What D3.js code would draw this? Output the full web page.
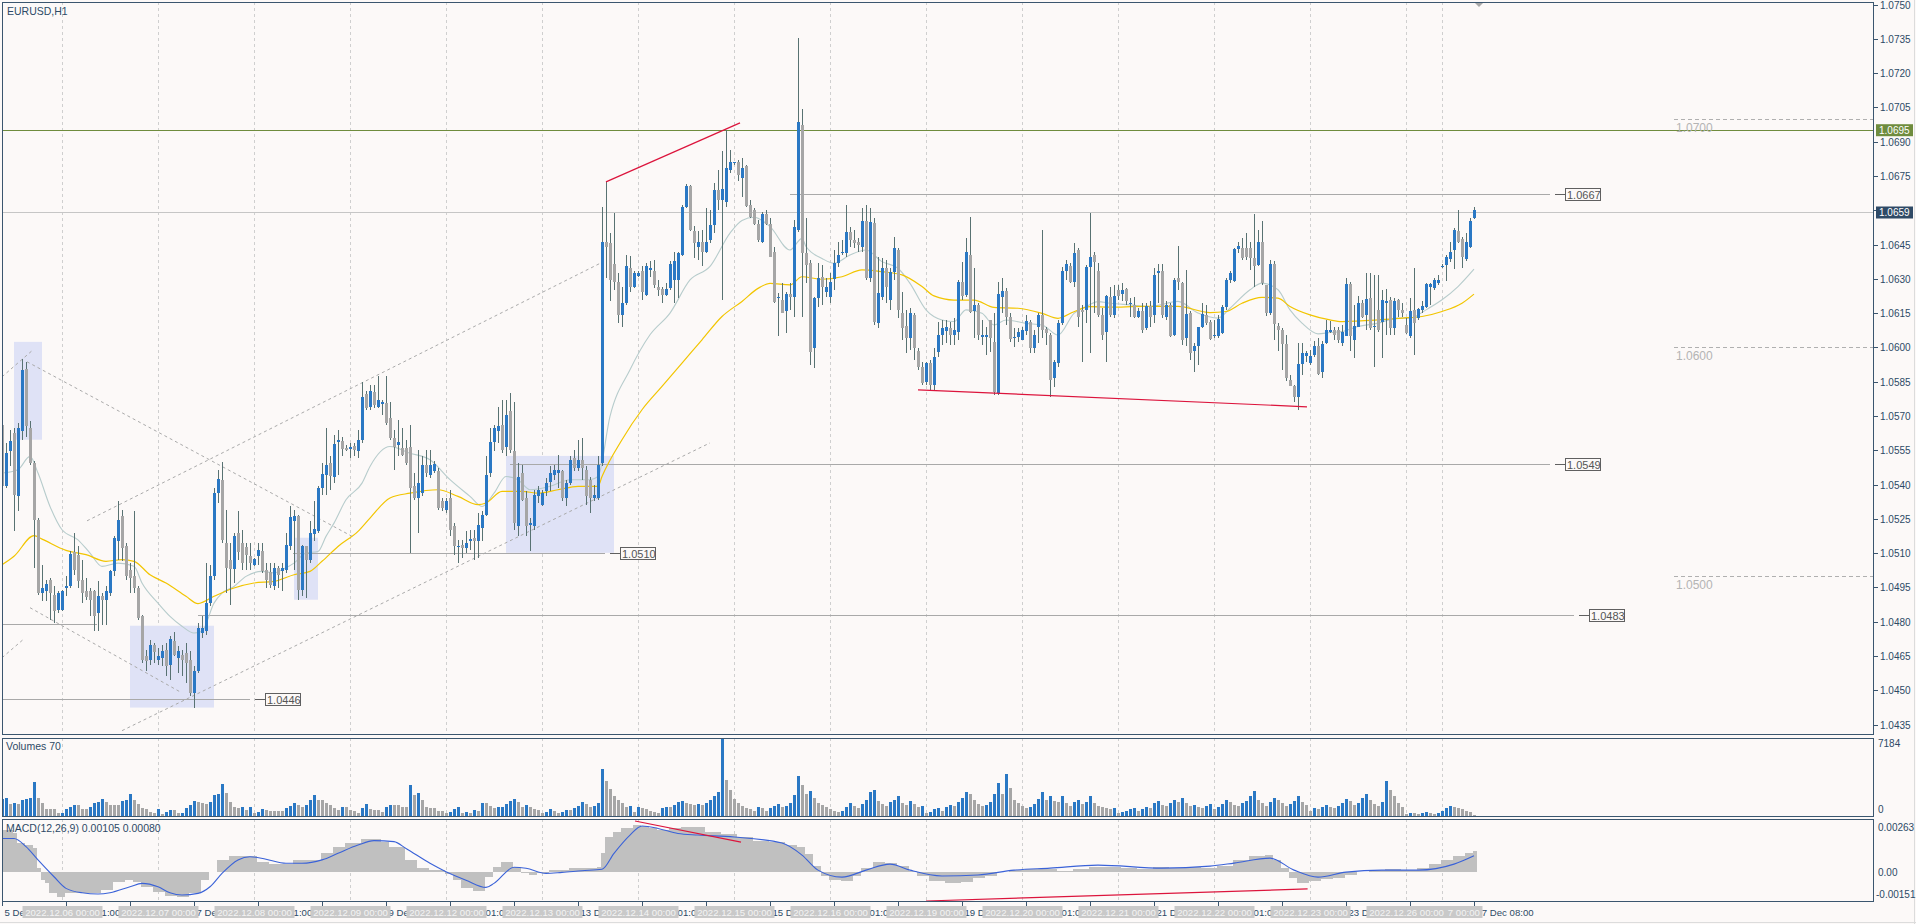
<!DOCTYPE html>
<html><head><meta charset="utf-8">
<script src="https://cdn.jsdelivr.net/npm/d3@7"></script>
<style>body{margin:0;background:#fcf9f8;overflow:hidden}svg{display:block}text{font-family:"Liberation Sans",Arial,sans-serif}</style>
</head><body>
<svg id="c" width="1916" height="924"></svg>
<script>
const opens=[1.0566,1.05392,1.05545,1.05625,1.05348,1.05632,1.05905,1.05647,1.05494,1.05246,1.04925,1.04932,1.04984,1.04918,1.04852,1.04852,1.04946,1.04957,1.05103,1.05093,1.04981,1.04935,1.04935,1.04935,1.04838,1.04911,1.04893,1.04925,1.0502,1.05151,1.05261,1.05129,1.05027,1.04998,1.04947,1.04823,1.04648,1.04634,1.04699,1.04634,1.04641,1.04677,1.04612,1.04714,1.04641,1.04655,1.04663,1.04634,1.04488,1.04583,1.0475,1.04758,1.04881,1.04998,1.05363,1.05421,1.05144,1.05071,1.05032,1.05188,1.05144,1.05126,1.05088,1.05049,1.05086,1.05107,1.05027,1.05016,1.04954,1.05035,1.0502,1.05027,1.05132,1.05239,1.05261,1.0494,1.05129,1.05071,1.05185,1.05195,1.05384,1.05443,1.05494,1.05435,1.05584,1.05589,1.05559,1.05555,1.05567,1.05545,1.05596,1.05796,1.05741,1.05803,1.05741,1.05753,1.05756,1.0569,1.05603,1.05574,1.05559,1.05559,1.05566,1.05392,1.05341,1.05362,1.05486,1.05443,1.05457,1.05457,1.05326,1.05289,1.05341,1.05217,1.05126,1.05136,1.05122,1.05155,1.05166,1.05151,1.05209,1.05268,1.0545,1.05588,1.05632,1.05661,1.05566,1.0572,1.05545,1.05217,1.0545,1.05341,1.05224,1.05217,1.05348,1.05312,1.0537,1.05413,1.05443,1.0545,1.05457,1.05341,1.05406,1.05516,1.05472,1.05508,1.05464,1.05421,1.05341,1.05341,1.05494,1.06459,1.06456,1.06365,1.06288,1.06142,1.06193,1.06346,1.06266,1.06314,1.06332,1.0623,1.06339,1.06336,1.06266,1.06255,1.0623,1.06259,1.06295,1.06295,1.06405,1.06616,1.06707,1.06507,1.06441,1.06463,1.06419,1.0647,1.06536,1.06689,1.06645,1.06634,1.06774,1.06806,1.06813,1.0674,1.06793,1.06623,1.06601,1.0654,1.06462,1.06583,1.0654,1.06419,1.06215,1.06207,1.06161,1.06233,1.06222,1.06513,1.06973,1.06411,1.06371,1.05996,1.06215,1.06309,1.06244,1.06222,1.06298,1.06368,1.06411,1.06411,1.06506,1.0647,1.06462,1.06441,1.06553,1.06302,1.06545,1.06105,1.06222,1.06346,1.06207,1.06331,1.06426,1.06152,1.06094,1.0604,1.06142,1.05986,1.05916,1.0585,1.0593,1.05835,1.05981,1.06054,1.06073,1.06083,1.06054,1.06069,1.06288,1.06229,1.06404,1.06161,1.06185,1.06044,1.06044,1.0612,1.06025,1.05799,1.06222,1.06248,1.06134,1.0604,1.06044,1.06032,1.06073,1.06113,1.05996,1.06091,1.06142,1.06079,1.06054,1.05865,1.05933,1.06108,1.06336,1.06356,1.06288,1.06426,1.06164,1.06164,1.06353,1.06404,1.06336,1.06142,1.06069,1.06222,1.06142,1.06249,1.06234,1.06256,1.0619,1.06186,1.06135,1.06161,1.06084,1.06179,1.06142,1.06324,1.06336,1.06135,1.06186,1.06055,1.06303,1.06281,1.0604,1.0615,1.05982,1.06004,1.06091,1.06142,1.06113,1.06048,1.06048,1.06065,1.06176,1.06295,1.06292,1.06429,1.06434,1.06434,1.06434,1.0639,1.06361,1.06459,1.06273,1.0615,1.06365,1.06094,1.06077,1.06015,1.05858,1.05829,1.05785,1.05928,1.05964,1.05931,1.05967,1.06007,1.05894,1.06018,1.06069,1.06077,1.06074,1.06018,1.0605,1.06278,1.06033,1.06091,1.06196,1.06142,1.06215,1.06091,1.06164,1.06109,1.06193,1.06208,1.06084,1.06208,1.06164,1.06098,1.0605,1.06164,1.06128,1.06164,1.06176,1.06265,1.06259,1.06281,1.06354,1.06361,1.06386,1.06424,1.06507,1.06473,1.06386,1.06441,1.06565];
const highs=[1.05705,1.05581,1.0564,1.05647,1.05669,1.05949,1.05938,1.05676,1.05501,1.05255,1.05049,1.04984,1.04991,1.04954,1.04932,1.0494,1.04998,1.05107,1.05188,1.05129,1.05071,1.04991,1.04947,1.0494,1.04976,1.04925,1.04954,1.05027,1.05173,1.05326,1.0529,1.05144,1.05056,1.05282,1.04954,1.04831,1.04677,1.04721,1.04706,1.04685,1.04699,1.04706,1.04736,1.04753,1.04692,1.04677,1.04706,1.0467,1.04604,1.04794,1.04823,1.05056,1.0505,1.05384,1.05465,1.05497,1.0529,1.05144,1.05188,1.05282,1.05202,1.05144,1.05144,1.05078,1.05144,1.05144,1.05056,1.05056,1.05056,1.05042,1.05056,1.05188,1.05304,1.0529,1.05268,1.05137,1.05132,1.05239,1.05326,1.05392,1.05494,1.05647,1.05523,1.05618,1.0564,1.0561,1.05574,1.05581,1.05581,1.0564,1.05847,1.05807,1.05836,1.05836,1.05873,1.05771,1.05873,1.05763,1.05639,1.05683,1.05647,1.05596,1.05661,1.0545,1.05552,1.05523,1.05552,1.05552,1.05501,1.05472,1.05341,1.05341,1.05377,1.05231,1.05158,1.05158,1.05195,1.05202,1.052,1.05275,1.05282,1.05523,1.05647,1.05661,1.05741,1.05771,1.05771,1.058,1.05763,1.05494,1.05486,1.0537,1.05253,1.05377,1.05392,1.05377,1.05428,1.05479,1.05486,1.0553,1.05464,1.05421,1.05523,1.05552,1.05596,1.05603,1.05479,1.05435,1.05399,1.05523,1.06616,1.06726,1.065,1.06587,1.06325,1.06266,1.06405,1.06398,1.06332,1.06332,1.06354,1.06368,1.06376,1.06383,1.06295,1.06266,1.06281,1.06376,1.06419,1.06419,1.06624,1.06715,1.06711,1.06529,1.06507,1.06514,1.06609,1.06602,1.06718,1.06777,1.06857,1.06952,1.06864,1.06813,1.0682,1.06827,1.06798,1.06645,1.06608,1.06557,1.06594,1.06601,1.06564,1.06441,1.06236,1.0628,1.06244,1.0628,1.06557,1.07352,1.07041,1.06564,1.06382,1.06222,1.06368,1.0636,1.06302,1.06324,1.06426,1.06462,1.0647,1.06623,1.06528,1.06513,1.06477,1.06608,1.06623,1.06608,1.06564,1.06397,1.0639,1.06382,1.06346,1.06484,1.06433,1.06244,1.06164,1.06171,1.06149,1.05996,1.05938,1.05938,1.05945,1.05996,1.06113,1.0612,1.0612,1.06113,1.06127,1.06295,1.06375,1.06477,1.06572,1.06346,1.06193,1.0612,1.06091,1.0612,1.06149,1.06288,1.06302,1.06258,1.06149,1.06083,1.06083,1.06091,1.06142,1.0612,1.06076,1.06149,1.06513,1.06091,1.06061,1.05945,1.0612,1.06353,1.06382,1.06368,1.06455,1.06433,1.06185,1.0636,1.06586,1.06419,1.06368,1.06171,1.06229,1.06266,1.06273,1.06273,1.06281,1.06259,1.06215,1.06222,1.06171,1.06193,1.06193,1.06201,1.06346,1.06365,1.06365,1.06201,1.06193,1.06303,1.06444,1.06288,1.06339,1.06157,1.06018,1.06091,1.06193,1.06186,1.0612,1.0612,1.06142,1.06186,1.06303,1.06336,1.06434,1.06463,1.06478,1.06499,1.06463,1.06584,1.06514,1.06551,1.06273,1.06383,1.06376,1.06106,1.06084,1.06055,1.0588,1.05836,1.06021,1.06021,1.05982,1.05989,1.06026,1.0604,1.06026,1.0612,1.06117,1.06091,1.06091,1.06098,1.06303,1.06285,1.06186,1.06225,1.06208,1.06324,1.06324,1.06317,1.06317,1.06252,1.06255,1.06219,1.06215,1.0621,1.06193,1.06128,1.06215,1.06346,1.06171,1.06201,1.06281,1.06281,1.06303,1.06317,1.06365,1.06405,1.06459,1.06522,1.06599,1.06485,1.06499,1.06565,1.06616];
const lows=[1.05304,1.05384,1.05479,1.05195,1.05282,1.05596,1.0561,1.05487,1.05035,1.04918,1.04889,1.04889,1.04809,1.04794,1.04838,1.04845,1.04911,1.04947,1.05005,1.04947,1.04881,1.04896,1.04823,1.04758,1.04758,1.04787,1.04787,1.04911,1.04998,1.05071,1.05064,1.04984,1.04925,1.04925,1.04809,1.04619,1.04583,1.04612,1.04619,1.04612,1.04604,1.04561,1.04546,1.04648,1.04575,1.04561,1.04532,1.04473,1.04422,1.04575,1.04728,1.04743,1.04867,1.04984,1.05319,1.05144,1.04925,1.04874,1.04969,1.05071,1.05027,1.05027,1.05027,1.05042,1.05049,1.05013,1.04947,1.04947,1.0494,1.04947,1.04932,1.05013,1.05115,1.05027,1.04896,1.04911,1.04903,1.05056,1.05151,1.05188,1.05355,1.05355,1.05377,1.05406,1.05443,1.05523,1.05545,1.05516,1.05523,1.05516,1.05581,1.05727,1.05727,1.05734,1.05734,1.05705,1.05661,1.05596,1.05464,1.05523,1.05523,1.05486,1.051,1.05333,1.05187,1.05348,1.05435,1.05428,1.0545,1.05289,1.05282,1.05275,1.05173,1.05093,1.05056,1.05078,1.051,1.05115,1.05071,1.05078,1.05151,1.05261,1.05435,1.05545,1.05581,1.05537,1.05523,1.05537,1.05202,1.05173,1.05326,1.05173,1.05107,1.05202,1.05319,1.05304,1.05348,1.0537,1.05421,1.05384,1.05326,1.05304,1.05399,1.05457,1.05457,1.05421,1.05312,1.05275,1.05326,1.05333,1.05479,1.06303,1.06201,1.06252,1.06106,1.06091,1.06186,1.06244,1.06259,1.0631,1.06208,1.06223,1.0631,1.06259,1.06223,1.06193,1.06223,1.06252,1.06193,1.06215,1.06398,1.06609,1.06507,1.0639,1.06383,1.06354,1.06412,1.06456,1.065,1.066,1.06208,1.06616,1.06762,1.06798,1.06726,1.06659,1.06616,1.06564,1.06535,1.06462,1.06455,1.06535,1.06394,1.06193,1.0605,1.06149,1.06061,1.06164,1.06134,1.06506,1.06134,1.0628,1.05923,1.05908,1.06178,1.06185,1.06222,1.06193,1.06251,1.06353,1.06404,1.06397,1.06441,1.06433,1.06419,1.06419,1.06295,1.06288,1.06098,1.06083,1.06207,1.06193,1.06164,1.06295,1.06127,1.06032,1.05974,1.05989,1.05945,1.05901,1.05835,1.05835,1.05814,1.05814,1.05959,1.0601,1.06018,1.0601,1.0601,1.06032,1.06207,1.06222,1.06149,1.06039,1.06032,1.0601,1.05967,1.05981,1.05792,1.05792,1.06149,1.06098,1.06025,1.06003,1.06025,1.06032,1.06054,1.05974,1.05974,1.06018,1.06039,1.0601,1.05784,1.05828,1.05916,1.06098,1.06295,1.0628,1.06266,1.06091,1.05938,1.06105,1.05974,1.06149,1.06134,1.06032,1.05938,1.06135,1.06128,1.06208,1.06201,1.06186,1.06135,1.06128,1.06128,1.06065,1.06077,1.06091,1.06106,1.06193,1.06128,1.0612,1.06045,1.06048,1.06252,1.06011,1.06004,1.05945,1.05894,1.05924,1.06084,1.06098,1.06033,1.0604,1.0604,1.06059,1.06164,1.06281,1.06288,1.06412,1.06383,1.06383,1.06339,1.06266,1.06354,1.06273,1.06138,1.06142,1.06033,1.05982,1.05902,1.05855,1.05829,1.05763,1.05727,1.0588,1.05938,1.05924,1.0596,1.0588,1.05865,1.06015,1.06062,1.06033,1.06018,1.06007,1.06048,1.05982,1.05953,1.06088,1.06128,1.06077,1.06077,1.05916,1.06069,1.05953,1.06055,1.06055,1.06055,1.06135,1.06135,1.06059,1.0604,1.05967,1.0612,1.06152,1.06171,1.06186,1.06252,1.06273,1.06346,1.06292,1.06375,1.06342,1.06456,1.06346,1.0638,1.06434,1.06561];
const closes=[1.05392,1.05538,1.05589,1.05355,1.05647,1.05902,1.05654,1.05494,1.05246,1.04925,1.04947,1.04966,1.04925,1.04845,1.04925,1.04932,1.04957,1.05097,1.05027,1.04976,1.04925,1.04906,1.04893,1.04823,1.04911,1.04893,1.04932,1.0502,1.05166,1.05246,1.05122,1.04998,1.04991,1.04947,1.04816,1.04634,1.04626,1.04699,1.04666,1.04651,1.0467,1.04604,1.04724,1.04655,1.0467,1.04634,1.04619,1.04488,1.04583,1.04772,1.04772,1.04881,1.04998,1.05363,1.05424,1.05158,1.05035,1.05032,1.05176,1.05103,1.05056,1.05093,1.05056,1.05074,1.05115,1.0502,1.04984,1.04962,1.05035,1.05005,1.05035,1.05137,1.05258,1.05264,1.0494,1.05129,1.05071,1.05188,1.05205,1.05384,1.05447,1.05487,1.05438,1.05578,1.05596,1.05555,1.05552,1.05562,1.05549,1.05596,1.05785,1.05734,1.05807,1.05749,1.05768,1.05759,1.05669,1.05603,1.05566,1.05588,1.0553,1.05494,1.05384,1.05341,1.05406,1.05486,1.0545,1.05486,1.05491,1.05297,1.05297,1.05326,1.05202,1.05129,1.05132,1.05122,1.05144,1.05161,1.05151,1.05224,1.05268,1.05443,1.05588,1.05647,1.05654,1.05552,1.05705,1.05552,1.05231,1.05435,1.05333,1.05217,1.05231,1.05355,1.05377,1.05362,1.05406,1.0545,1.05464,1.05464,1.05341,1.05406,1.05508,1.05472,1.05508,1.05472,1.05348,1.05341,1.05355,1.05486,1.06463,1.06441,1.06295,1.06288,1.06142,1.06193,1.06357,1.06266,1.06325,1.06325,1.06244,1.06357,1.06346,1.06274,1.06252,1.0623,1.06256,1.06365,1.06376,1.06412,1.06616,1.06707,1.06514,1.06456,1.06463,1.06419,1.06463,1.06536,1.06689,1.06645,1.06692,1.06784,1.06809,1.06809,1.06755,1.06783,1.06618,1.06572,1.0654,1.0647,1.06583,1.0654,1.06397,1.062,1.06222,1.06152,1.06233,1.06222,1.06528,1.06987,1.06411,1.0636,1.05981,1.06215,1.06302,1.06266,1.06266,1.06288,1.06368,1.06404,1.06419,1.06506,1.0647,1.06455,1.06448,1.06553,1.06302,1.0655,1.06113,1.06236,1.06346,1.06266,1.06331,1.06433,1.06164,1.06083,1.0604,1.06149,1.05996,1.05916,1.05843,1.0593,1.05835,1.05957,1.06054,1.06083,1.06088,1.06054,1.06076,1.06288,1.06225,1.06419,1.06156,1.06185,1.06054,1.06054,1.06054,1.0604,1.05806,1.06233,1.06248,1.06134,1.06035,1.06044,1.06069,1.06076,1.06117,1.05996,1.06054,1.06142,1.06076,1.06061,1.05857,1.05938,1.06105,1.06336,1.06365,1.06288,1.06414,1.06134,1.06156,1.0635,1.06394,1.06375,1.06142,1.06054,1.06225,1.06142,1.06225,1.06225,1.06249,1.06201,1.06196,1.06135,1.06161,1.06077,1.06179,1.06135,1.06317,1.06336,1.06142,1.06186,1.0605,1.06295,1.06284,1.06033,1.06147,1.05975,1.06004,1.06088,1.06147,1.06106,1.06036,1.06055,1.06123,1.06176,1.06295,1.06327,1.06429,1.06444,1.0639,1.06397,1.0639,1.06354,1.06459,1.06281,1.0615,1.06365,1.06103,1.06077,1.06015,1.05865,1.05832,1.05785,1.05928,1.05975,1.05975,1.05964,1.06007,1.05884,1.06015,1.06077,1.06077,1.06055,1.06033,1.06069,1.06278,1.06048,1.06094,1.06196,1.06135,1.0621,1.06084,1.06094,1.06077,1.06208,1.06201,1.06084,1.06201,1.06164,1.06152,1.06065,1.06157,1.06106,1.06167,1.06179,1.06278,1.06278,1.06295,1.06295,1.06357,1.06394,1.06417,1.06514,1.06463,1.06394,1.06459,1.06555,1.06599];
const volumes=[1600,1690,1150,1210,1150,1450,1600,1690,3110,1690,1210,605,605,605,245,300,605,785,1000,1000,605,605,785,1210,1300,1540,1300,1000,1000,1000,1390,1450,1990,1450,1150,695,605,390,245,605,150,390,545,545,245,300,695,1000,1360,1300,1210,1150,1300,1900,1990,2960,2110,1300,845,695,785,545,785,245,390,605,545,485,485,485,485,695,910,1210,1000,845,1000,1450,1900,1450,1450,1210,1000,695,545,785,785,545,485,300,695,1090,605,545,545,390,785,1000,1000,1000,785,785,2810,1900,2110,1450,785,695,695,485,485,300,390,605,785,300,390,245,545,485,1210,1210,910,695,785,845,1150,1390,1600,1300,845,1000,785,605,545,245,390,605,485,245,390,545,545,695,910,1300,1090,785,910,1210,4320,3200,2510,1810,1450,1210,785,910,390,785,695,605,485,390,300,695,785,785,1000,1300,1390,1210,1150,1000,1150,1000,1200,1500,1800,2200,7184,3300,2400,1600,1200,900,700,600,500,800,700,500,700,900,1100,800,900,1200,1900,3700,2900,2000,2300,1700,1200,1000,800,600,500,400,500,800,1200,900,700,1100,1500,2200,2400,1400,1100,900,1300,1500,1800,1200,1000,1400,1100,800,900,300,400,600,700,500,800,1000,900,1300,1700,2200,2000,1500,1100,900,1000,1300,2000,3000,2000,3900,2600,1500,1200,900,700,800,1100,1600,2200,1500,1800,1400,1300,1800,1200,900,1300,1500,1100,1300,1800,1200,900,800,700,600,700,300,400,500,600,700,500,600,800,700,1200,1400,1000,900,1200,1500,1300,1700,1200,900,1000,800,700,900,1100,600,800,1100,1500,1300,1000,900,1200,1400,1800,2300,1500,1200,900,1300,1700,1500,1200,900,1100,1400,1800,1300,1000,500,700,600,800,1000,800,700,900,1200,1600,1400,1000,1200,1700,2000,1500,1100,900,1300,3260,2400,1800,1200,800,200,300,300,200,300,400,300,200,300,500,700,900,800,700,600,500,400,70];
const maFastIdx=[0,4,7,9,12,15,19,22,25,29,33,35,39,42,45,48,50,53,55,58,61,65,68,70,73,76,79,81,83,86,90,92,97,102,107,112,117,120,123,126,129,132,137,142,147,149,152,157,162,167,172,177,182,185,188,192,197,200,201,205,208,212,216,220,224,227,231,235,238,241,245,248,251,256,260,264,268,271,274,277,282,287,294,299,304,307,312,315,319,322,325,329,332,335,339,344,349,352,356,360,364,368];
const maFastVal=[1.0545,1.05465,1.05523,1.0545,1.05304,1.05202,1.05158,1.051,1.05042,1.05056,1.05042,1.04969,1.04881,1.04823,1.0478,1.0475,1.04758,1.04881,1.04925,1.04954,1.04998,1.0502,1.05013,1.05027,1.05056,1.051,1.05107,1.05173,1.05231,1.05333,1.05406,1.05479,1.05566,1.05537,1.05508,1.05421,1.05348,1.05304,1.05362,1.05435,1.05421,1.05377,1.05392,1.05421,1.05421,1.05435,1.05698,1.05902,1.06055,1.0615,1.06295,1.06354,1.065,1.06555,1.06569,1.06528,1.06426,1.06477,1.06441,1.06389,1.06368,1.06404,1.06426,1.06375,1.06346,1.0628,1.06164,1.0612,1.06113,1.06164,1.06149,1.06098,1.0612,1.06105,1.06098,1.06054,1.06149,1.06178,1.062,1.06193,1.06186,1.06179,1.06201,1.0615,1.06128,1.06171,1.06252,1.06281,1.06252,1.06164,1.06106,1.06059,1.06065,1.06069,1.06091,1.06106,1.06128,1.06128,1.06164,1.06208,1.06266,1.06342];
const maSlowIdx=[0,3,8,10,16,21,26,30,33,37,41,46,49,53,58,63,68,73,77,80,84,89,92,97,102,109,114,119,121,125,130,134,139,144,149,150,155,160,165,170,175,180,185,189,192,197,200,205,210,215,220,225,230,233,238,243,248,254,260,264,268,272,277,285,294,302,306,310,315,319,322,327,332,335,344,350,355,360,365,368];
const maSlowVal=[1.05049,1.05086,1.05176,1.05161,1.05112,1.05093,1.05064,1.05071,1.05064,1.05005,1.04969,1.04911,1.04879,1.04911,1.04947,1.04969,1.04976,1.05005,1.0502,1.05064,1.05129,1.05195,1.05253,1.05341,1.05362,1.05377,1.05348,1.05312,1.05319,1.0537,1.0537,1.05362,1.05377,1.05392,1.05392,1.05435,1.05596,1.05727,1.05829,1.05931,1.06033,1.06135,1.06201,1.06258,1.0628,1.06273,1.06309,1.06298,1.06309,1.06339,1.06331,1.06317,1.06266,1.06225,1.06207,1.06207,1.06175,1.06171,1.06149,1.06127,1.06156,1.06178,1.06176,1.06179,1.06179,1.06152,1.06157,1.06193,1.06219,1.06215,1.06179,1.06142,1.0612,1.06113,1.0612,1.06128,1.06135,1.06157,1.06193,1.06233];
const macdIdx=[0,3,4,6,8,9,10,11,12,14,16,22,25,28,31,33,35,38,41,44,47,50,52,54,57,61,64,67,71,73,77,80,83,86,90,93,95,97,101,104,107,111,113,115,118,121,123,125,128,130,132,134,137,142,145,149,150,151,153,155,158,160,162,164,167,170,173,176,180,184,188,192,196,199,201,203,205,207,210,213,215,218,221,224,227,229,232,236,240,243,246,249,252,256,260,264,268,272,276,280,284,288,292,296,300,304,308,312,316,318,320,322,324,327,330,333,336,339,342,346,350,354,357,360,363,366,368];
const macdMain=[0.00208,0.00191,0.00141,0.00133,0.00116,0.0002,-0.0004,-0.00058,-0.00108,-0.00125,-0.00108,-0.00108,-0.00091,-0.0005,-0.00042,-0.0005,-0.00075,-0.001,-0.00121,-0.00125,-0.00108,-0.00042,0,0.00059,0.00078,0.00078,0.0005,0.00038,0.00038,0.00059,0.00059,0.00092,0.00125,0.00141,0.00161,0.00163,0.0015,0.00125,0.00059,0.00017,0.00008,-0.00012,-0.00042,-0.00083,-0.00095,-0.00025,0.00025,0.0005,0.00025,-0.00008,-0.00017,-0.00008,0.00008,0.00017,0.0002,0.00025,0.00092,0.00175,0.002,0.00216,0.00233,0.00228,0.00216,0.00208,0.00216,0.00221,0.00225,0.002,0.0019,0.00175,0.00155,0.0015,0.00135,0.00124,0.0009,0.0003,-0.0002,-0.0004,-0.00045,-0.0002,0.0002,0.0005,0.00045,0.0003,0.00005,-0.0002,-0.00045,-0.00055,-0.0005,-0.0003,-0.0002,0,0.0001,0.00015,0.00015,0.00005,0.00015,0.00025,0.00025,0.0002,0.00015,0.00025,0.0002,0.00025,0.0002,0.0003,0.0006,0.0008,0.00085,0.0006,0.0002,-0.0003,-0.00055,-0.00045,-0.00035,-0.0003,-0.00015,0,0.0001,0.00015,0.0001,0.0002,0.0004,0.0006,0.0008,0.00095,0.00105];
const sigIdx=[0,3,6,9,13,16,20,24,27,32,35,39,42,45,49,52,55,59,62,66,71,75,80,84,89,93,98,101,107,111,116,121,123,128,131,136,140,145,150,153,157,160,164,169,174,183,195,200,204,210,216,222,227,235,244,253,262,274,290,302,308,317,323,329,336,345,354,363,368];
const sigVal=[0.00166,0.00166,0.00125,0.00059,-0.00025,-0.00083,-0.00105,-0.00111,-0.00105,-0.00075,-0.00058,-0.00075,-0.00105,-0.00116,-0.00108,-0.00075,-0.00008,0.00059,0.00075,0.00062,0.00042,0.00042,0.00059,0.00092,0.00133,0.00155,0.0015,0.00116,0.00042,0,-0.00042,-0.00078,-0.00058,0.00022,0.00017,-0.00008,-0.00003,0.00005,0.00012,0.00092,0.00183,0.00228,0.00216,0.00191,0.00183,0.00173,0.00143,0.00083,0.00008,-0.00027,0.00008,0.00038,0.00008,-0.00021,-0.00016,0.00008,0.00018,0.00033,0.00018,0.00028,0.00043,0.00068,0.00008,-0.00027,-0.00002,0.00008,0.00008,0.00038,0.0008];
const priceTicks=[1.0435,1.045,1.0465,1.048,1.0495,1.051,1.0525,1.054,1.0555,1.057,1.0585,1.06,1.0615,1.063,1.0645,1.066,1.0675,1.069,1.0705,1.072,1.0735,1.075];
const timeTickIdx=[0,16,32,48,64,80,96,112,128,144,160,176,192,208,224,240,256,272,288,304,320,336,352,368];
const timeTickLabels=["5 Dec 2022","6 Dec 01:00","6 Dec 17:00","7 Dec 09:00","8 Dec 01:00","8 Dec 17:00","9 Dec 09:00","12 Dec 01:00","12 Dec 17:00","13 Dec 09:00","14 Dec 01:00","14 Dec 17:00","15 Dec 09:00","16 Dec 01:00","16 Dec 17:00","19 Dec 09:00","20 Dec 01:00","20 Dec 17:00","21 Dec 09:00","22 Dec 01:00","22 Dec 17:00","23 Dec 09:00","26 Dec 01:00","27 Dec 08:00"];
const dayIdx=[15,39,63,87,111,135,159,183,207,231,255,279,303,327,351,360];
const dayLabels=["2022.12.06 00:00","2022.12.07 00:00","2022.12.08 00:00","2022.12.09 00:00","2022.12.12 00:00","2022.12.13 00:00","2022.12.14 00:00","2022.12.15 00:00","2022.12.16 00:00","2022.12.19 00:00","2022.12.20 00:00","2022.12.21 00:00","2022.12.22 00:00","2022.12.23 00:00","2022.12.26 00:00","2022.12.27 00:00"];
// chart objects (bar index, price)
const zones=[[3,10,1.06024,1.05596],[32,53,1.04782,1.04424],[73,79,1.05167,1.04896],[126,153,1.05525,1.05101]];
const dashTrends=[[21.25,1.05241,150.25,1.06374],[0,1.05871,7.75,1.05989],[6.25,1.05937,87.75,1.05171],[7,1.04861,44.5,1.04493],[30,1.04323,177,1.05582],[0,1.04642,5.25,1.04721]];
const redTrends=[[151,1.06724,184.5,1.06982],[229,1.05814,326.25,1.0574]];
const macdRedTrends=[[158.25,0.00253,184.75,0.00148],[231,-0.00146,326.4,-0.00086]];
const levelLines=[[197,387,1.0667,"1.0667"],[127,387,1.0549,"1.0549"],[72.75,150.75,1.0510,"1.0510"],[49,393,1.0483,"1.0483"],[0,62,1.0446,"1.0446"],[0,23.75,1.04791,null]];
const roundLevels=[1.07,1.06,1.05];
const greenLevel=1.0695, lastPrice=1.0659;
const volMax=7184, macdHi=0.00263, macdLo=-0.00151;

const svg=d3.select('#c');
const L=2,R=1874;
const P={main:[2,735],vol:[738,817],macd:[819,902]};
const C={txt:'#2d4a66',border:'#3b566f',grid:'#cfcfcf',wick:'#587272',bull:'#2a78c4',bear:'#a6a6a6'};
const x=d3.scaleLinear().domain([0,368]).range([2,1474]);
const y=d3.scaleLinear().domain([1.0435,1.075]).range([724.5,4.5]);
const yv=d3.scaleLinear().domain([0,volMax]).range([816,738]);
const ym=d3.scaleLinear().domain([macdLo,macdHi]).range([902,819]);
const X=i=>Math.round(x(i));

svg.append('rect').attr('width',1916).attr('height',924).attr('fill','#fcf9f8');
const defs=svg.append('defs');
Object.entries(P).forEach(([k,[t,b]])=>{defs.append('clipPath').attr('id','cp-'+k).append('rect').attr('x',L).attr('y',t).attr('width',R-L).attr('height',b-t);});
const gm=svg.append('g').attr('clip-path','url(#cp-main)');
const gv=svg.append('g').attr('clip-path','url(#cp-vol)');
const gd=svg.append('g').attr('clip-path','url(#cp-macd)');

// day separators grid
[gm,gv,gd].forEach((g,k)=>{const [t,b]=Object.values(P)[k];
  dayIdx.forEach(i=>g.append('line').attr('x1',X(i)+0.5).attr('x2',X(i)+0.5).attr('y1',t).attr('y2',b).attr('stroke',C.grid).attr('stroke-dasharray','3,3'));});

// zones
zones.forEach(z=>gm.append('rect').attr('x',x(z[0])).attr('width',x(z[1])-x(z[0])).attr('y',y(z[2])).attr('height',y(z[3])-y(z[2])).attr('fill','#dfe2f6'));

// horizontal objects
gm.append('line').attr('x1',L).attr('x2',R).attr('y1',Math.round(y(greenLevel))+0.5).attr('y2',Math.round(y(greenLevel))+0.5).attr('stroke','#6f8c3e');
gm.append('line').attr('x1',L).attr('x2',R).attr('y1',Math.round(y(lastPrice))+0.5).attr('y2',Math.round(y(lastPrice))+0.5).attr('stroke','#c6c6c6');
roundLevels.forEach(p=>{const yy=Math.round(y(p))+0.5;
  gm.append('line').attr('x1',1674).attr('x2',R).attr('y1',yy).attr('y2',yy).attr('stroke','#b0b0b0').attr('stroke-dasharray','4,3');
  gm.append('text').attr('x',1676).attr('y',yy+12).attr('font-size',12).attr('fill','#b4b4b4').text(p.toFixed(4));});
levelLines.forEach(([a,b,p,lab])=>{const yy=Math.round(y(p))+0.5;
  gm.append('line').attr('x1',x(a)).attr('x2',x(b)).attr('y1',yy).attr('y2',yy).attr('stroke','#a9a9a9');
  if(lab){const bx=x(b);
    gm.append('line').attr('x1',bx+5).attr('x2',bx+15).attr('y1',yy).attr('y2',yy).attr('stroke','#606060');
    gm.append('rect').attr('x',bx+15.5).attr('y',yy-6).attr('width',35).attr('height',12).attr('fill','#fcf9f8').attr('stroke','#606060');
    gm.append('text').attr('x',bx+17).attr('y',yy+4.5).attr('font-size',11).attr('fill','#555').text(lab);}});

// dashed trend lines
dashTrends.forEach(t=>gm.append('line').attr('x1',x(t[0])).attr('y1',y(t[1])).attr('x2',x(t[2])).attr('y2',y(t[3])).attr('stroke','#aaaaaa').attr('stroke-dasharray','3,3'));

// moving averages
const lineP=d3.line().curve(d3.curveMonotoneX);
gm.append('path').attr('d',lineP(maFastIdx.map((i,k)=>[x(i),y(maFastVal[k])]))).attr('fill','none').attr('stroke','#b7cccc').attr('stroke-width',1.1);
gm.append('path').attr('d',lineP(maSlowIdx.map((i,k)=>[x(i),y(maSlowVal[k])]))).attr('fill','none').attr('stroke','#f2c500').attr('stroke-width',1.2);

// candles
const gc=gm.append('g').attr('shape-rendering','crispEdges');
opens.forEach((o,i)=>{const cx=X(i),c=closes[i];
  gc.append('line').attr('x1',cx+0.5).attr('x2',cx+0.5).attr('y1',y(highs[i])).attr('y2',y(lows[i])).attr('stroke',C.wick);
  const t=y(Math.max(o,c)),b=y(Math.min(o,c));
  gc.append('rect').attr('x',cx-1).attr('width',3).attr('y',t).attr('height',Math.max(1,b-t)).attr('fill',c>=o?C.bull:C.bear);});

// red lines
redTrends.forEach(t=>gm.append('line').attr('x1',x(t[0])).attr('y1',y(t[1])).attr('x2',x(t[2])).attr('y2',y(t[3])).attr('stroke','#dc143c').attr('stroke-width',1.2));
gm.append('path').attr('d','M1474,2 L1484,2 L1479,7 Z').attr('fill','#a8a8a8');

// volumes
const gvv=gv.append('g').attr('shape-rendering','crispEdges');
volumes.forEach((v,i)=>{const up=i===0||v>volumes[i-1];
  gvv.append('rect').attr('x',X(i)-1).attr('width',3).attr('y',yv(v)).attr('height',yv(0)-yv(v)).attr('fill',up?C.bull:C.bear);});

// macd histogram (steps) and signal
const gh=gd.append('g').attr('shape-rendering','crispEdges');
macdIdx.forEach((i,k)=>{const x0=X(i)-1,x1=k<macdIdx.length-1?X(macdIdx[k+1])-1:X(i)+3;const v=macdMain[k];
  gh.append('rect').attr('x',x0).attr('width',x1-x0).attr('y',Math.min(ym(v),ym(0))).attr('height',Math.abs(ym(v)-ym(0))).attr('fill','#c0c0c0');});
gd.append('path').attr('d',lineP(sigIdx.map((i,k)=>[x(i),ym(sigVal[k])]))).attr('fill','none').attr('stroke','#3a62d8').attr('stroke-width',1.1);
macdRedTrends.forEach(t=>gd.append('line').attr('x1',x(t[0])).attr('y1',ym(t[1])).attr('x2',x(t[2])).attr('y2',ym(t[3])).attr('stroke','#dc143c').attr('stroke-width',1.2));

// panel borders
Object.values(P).forEach(([t,b])=>svg.append('rect').attr('x',L+0.5).attr('y',t+0.5).attr('width',R-L-1).attr('height',b-t-1).attr('fill','none').attr('stroke',C.border));
svg.append('line').attr('x1',0).attr('x2',1916).attr('y1',922.5).attr('y2',922.5).attr('stroke','#dcdcdc');
svg.append('line').attr('x1',1914.5).attr('x2',1914.5).attr('y1',0).attr('y2',924).attr('stroke','#dcdcdc');

// titles
svg.append('text').attr('x',7).attr('y',15).attr('font-size',10.5).attr('fill',C.txt).text('EURUSD,H1');
svg.append('text').attr('x',6).attr('y',750).attr('font-size',10.5).attr('fill',C.txt).text('Volumes '+volumes[volumes.length-1]);
svg.append('text').attr('x',6).attr('y',832).attr('font-size',10.5).attr('fill',C.txt).text('MACD(12,26,9) '+macdMain[macdMain.length-1].toFixed(5)+' '+sigVal[sigVal.length-1].toFixed(5));

// right price axis (labels hidden under the price boxes are not drawn, as in the terminal)
const boxPrices=[[greenLevel,'#6f8c3e'],[lastPrice,'#2f4a66']];
priceTicks.forEach(p=>{const yy=Math.round(y(p))+0.5;
  svg.append('line').attr('x1',R).attr('x2',R+4).attr('y1',yy).attr('y2',yy).attr('stroke',C.border);
  if(boxPrices.some(([bp])=>Math.abs(y(bp)-yy)<10)) return;
  svg.append('text').attr('x',1880).attr('y',yy+3.5).attr('font-size',10).attr('fill',C.txt).text(p.toFixed(4));});
boxPrices.forEach(([p,col])=>{const yy=y(p);
  svg.append('rect').attr('x',1876).attr('y',yy-6).attr('width',37).attr('height',12).attr('fill',col);
  svg.append('text').attr('x',1879).attr('y',yy+3.5).attr('font-size',10).attr('fill','#fff').text(p.toFixed(4));});
svg.append('text').attr('x',1878).attr('y',747).attr('font-size',10).attr('fill',C.txt).text(volMax);
svg.append('text').attr('x',1878).attr('y',813).attr('font-size',10).attr('fill',C.txt).text('0');
svg.append('text').attr('x',1878).attr('y',831).attr('font-size',10).attr('fill',C.txt).text(macdHi.toFixed(5));
svg.append('text').attr('x',1878).attr('y',ym(0)+4).attr('font-size',10).attr('fill',C.txt).text('0.00');
svg.append('text').attr('x',1876).attr('y',898).attr('font-size',10).attr('fill',C.txt).text(macdLo.toFixed(5));

// time axis: period-separator boxes cover parts of labels; only the uncovered characters are drawn
const TFS=9.6;
const boxes=dayIdx.map(i=>[X(i)+0.5-40,X(i)+0.5+40]);
function drawVisible(lab,x0,anchorMid,covers,fill){
  const t=svg.append('text').attr('x',x0).attr('y',916).attr('font-size',TFS).attr('text-anchor',anchorMid?'middle':'start').text(lab);
  const node=t.node(); const runs=[]; let cur=null;
  for(let c=0;c<lab.length;c++){let e;try{e=node.getExtentOfChar(c);}catch(err){continue;}
    const mid=e.x+e.width/2; const hidden=covers.some(b=>mid>b[0]&&mid<b[1])||e.x+e.width>1912;
    if(!hidden){ if(cur&&cur.end===c){cur.end=c+1;} else {cur={s:c,end:c+1,x:e.x};runs.push(cur);} } else cur=null;}
  const ext=[];for(let c=0;c<lab.length;c++){try{ext.push(node.getExtentOfChar(c).x);}catch(err){ext.push(null);}}
  t.remove();
  runs.forEach(r=>{let s=r.s; while(s<r.end&&lab[s]===' '){s++;}
    if(s>=r.end) return;
    svg.append('text').attr('x',ext[s]).attr('y',916).attr('font-size',TFS).attr('fill',fill).text(lab.slice(s,r.end));});
}
timeTickIdx.forEach((i,k)=>{const xx=X(i)+0.5;
  svg.append('line').attr('x1',xx).attr('x2',xx).attr('y1',902).attr('y2',906).attr('stroke',C.border);
  drawVisible(timeTickLabels[k],xx+2,false,boxes,C.txt);});
// separator boxes: earlier ones are drawn on top of later ones
for(let k=dayIdx.length-1;k>=0;k--){const cx=X(dayIdx[k])+0.5;
  svg.append('rect').attr('x',cx-40).attr('y',906).attr('width',80).attr('height',12).attr('fill','#c9c9c9');
  drawVisible(dayLabels[k],cx,true,boxes.slice(0,k),'#f4f4f4');}
</script>
</body></html>
